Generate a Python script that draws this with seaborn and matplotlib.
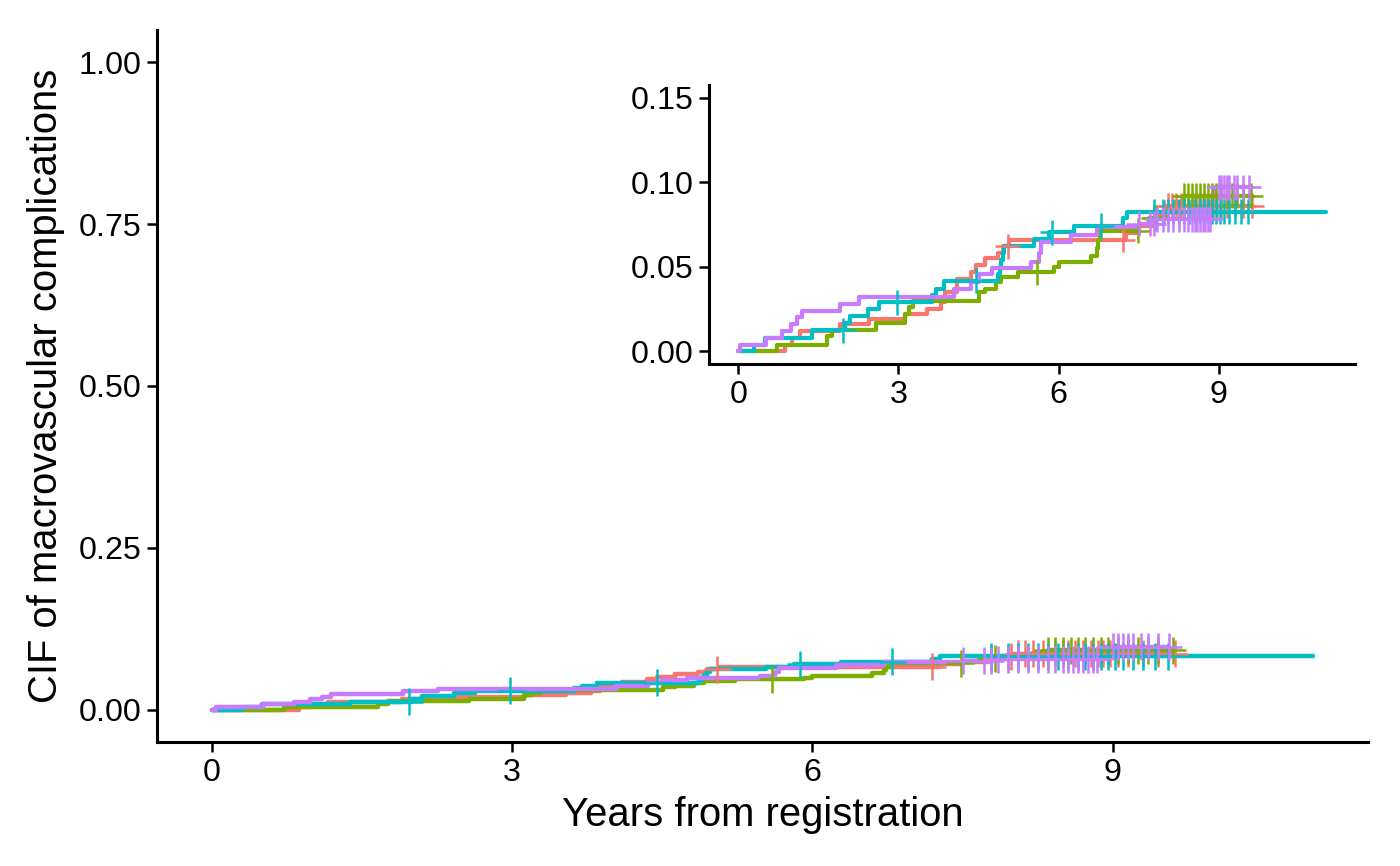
import numpy as np
import pandas as pd
import matplotlib
matplotlib.use("Agg")
import matplotlib.pyplot as plt
import seaborn as sns

# ---------------- data ----------------
groups = ["Group 1", "Group 2", "Group 3", "Group 4"]
colors = ["#F8766D", "#7CAE00", "#00BFC4", "#C77CFF"]

# event times (years) and CIF after each step
g1_time = [0, 0.87, 1.0, 1.16, 1.9, 2.45, 3.13, 3.54, 3.79, 3.88, 4.1, 4.35, 4.45,
           4.63, 4.86, 4.95, 5.07, 7.27, 7.5, 7.75, 7.9, 8.0]
g1_cif = [0, 0.004, 0.008, 0.012, 0.016, 0.019, 0.022, 0.025, 0.029, 0.035, 0.043, 0.047, 0.051,
          0.055, 0.058, 0.062, 0.066, 0.070, 0.074, 0.078, 0.082, 0.086]
g1_censor = [5.05, 7.2, 7.98, 8.05, 8.12, 8.2, 8.3, 8.42, 8.5, 8.55, 8.62, 8.7, 8.78,
             8.85, 8.9, 8.97, 9.05, 9.15, 9.3, 9.45, 9.62]

g2_time = [0, 0.72, 1.66, 1.76, 2.57, 3.12, 3.2, 3.28, 4.51, 4.63, 4.82, 4.92, 5.23,
           5.92, 6.0, 6.6, 6.72, 6.74, 6.77, 7.5, 7.7, 8.0, 8.2, 8.35]
g2_cif = [0, 0.004, 0.009, 0.0127, 0.0166, 0.022, 0.026, 0.030, 0.0348, 0.037, 0.0407, 0.0437, 0.0467,
          0.0496, 0.0526, 0.0565, 0.061, 0.066, 0.0714, 0.075, 0.079, 0.084, 0.088, 0.092]
g2_censor = [5.6, 7.48, 7.78, 7.82, 8.35, 8.42, 8.5, 8.58, 8.65, 8.72, 8.8, 8.88, 8.95,
             9.05, 9.15, 9.25, 9.35, 9.45, 9.6]

g3_time = [0, 0.3, 0.5, 1.38, 2.0, 2.1, 2.42, 2.63, 3.62, 3.7, 3.85, 4.87, 4.9, 4.92,
           4.95, 4.98, 5.54, 5.82, 6.29, 7.2, 7.28]
g3_cif = [0, 0.004, 0.008, 0.0125, 0.017, 0.021, 0.025, 0.029, 0.033, 0.037, 0.0417, 0.046, 0.050, 0.054,
          0.058, 0.0625, 0.0664, 0.0704, 0.0743, 0.0787, 0.0826]
g3_censor = [1.97, 2.98, 4.45, 5.88, 6.8, 7.78, 7.95, 8.05, 8.15, 8.25, 8.35, 8.45, 8.55,
             8.65, 8.72, 8.8, 8.88, 8.95, 9.02, 9.1, 9.2, 9.3, 9.42, 9.55]

g4_time = [0, 0.04, 0.51, 0.82, 0.98, 1.10, 1.19, 1.91, 2.26, 4.04, 4.36, 4.5, 4.75,
           5.48, 5.63, 5.67, 6.24, 6.72, 7.5, 7.81, 8.86, 8.88, 8.9, 8.92]
g4_cif = [0, 0.004, 0.008, 0.012, 0.016, 0.020, 0.024, 0.028, 0.032, 0.037, 0.041, 0.0457, 0.049,
          0.0526, 0.058, 0.0645, 0.069, 0.0733, 0.0755, 0.078, 0.083, 0.088, 0.093, 0.097]
g4_censor = [7.5, 7.71, 7.78, 7.85, 7.95, 8.05, 8.15, 8.25, 8.35, 8.42, 8.5, 8.55, 8.6,
             8.65, 8.7, 8.75, 8.8, 8.84, 9.0, 9.05, 9.1, 9.15, 9.2, 9.28, 9.35, 9.45, 9.56]

followup_end = [9.62, 9.6, 11.0, 9.56]

x_ticks = [0, 3, 6, 9]
main_y_ticks = [0.00, 0.25, 0.50, 0.75, 1.00]
inset_y_ticks = [0.00, 0.05, 0.10, 0.15]
x_label = "Years from registration"
y_label = "CIF of macrovascular complications"

# ---------------- build tables ----------------
times = [g1_time, g2_time, g3_time, g4_time]
cifs = [g1_cif, g2_cif, g3_cif, g4_cif]
censors = [g1_censor, g2_censor, g3_censor, g4_censor]

line_rows = []
cens_rows = []
for g, t, c, cs, end in zip(groups, times, cifs, censors, followup_end):
    t = np.asarray(t, float)
    c = np.asarray(c, float)
    for ti, ci in zip(t, c):
        line_rows.append((g, ti, ci))
    line_rows.append((g, end, c[-1]))
    for ct in cs:
        idx = np.searchsorted(t, ct, side="right") - 1
        cens_rows.append((g, ct, c[idx]))

lines = pd.DataFrame(line_rows, columns=["group", "time", "cif"])
cens = pd.DataFrame(cens_rows, columns=["group", "time", "cif"])
palette = dict(zip(groups, colors))

# ---------------- style ----------------
sns.set_theme(style="ticks")
plt.rcParams["font.family"] = ["Liberation Sans", "DejaVu Sans"]
plt.rcParams["axes.linewidth"] = 1.1
plt.rcParams["xtick.major.width"] = 0.9
plt.rcParams["ytick.major.width"] = 0.9
plt.rcParams["xtick.major.size"] = 3.6
plt.rcParams["ytick.major.size"] = 3.6
plt.rcParams["xtick.color"] = "black"
plt.rcParams["ytick.color"] = "black"
plt.rcParams["axes.edgecolor"] = "black"
plt.rcParams["axes.labelcolor"] = "black"
plt.rcParams["text.color"] = "black"

fig = plt.figure(figsize=(7, 4.33), dpi=200)
ax = fig.add_axes([0.1121, 0.1432, 0.977 - 0.1121, 0.9654 - 0.1432])
axin = fig.add_axes([0.5064, 0.5797, 0.4614, 0.3222])


def draw(a, ylim, yticks, lw, ms):
    sns.lineplot(data=lines, x="time", y="cif", hue="group", palette=palette,
                 hue_order=groups, estimator=None, drawstyle="steps-post",
                 linewidth=lw, legend=False, ax=a)
    sns.scatterplot(data=cens, x="time", y="cif", hue="group", palette=palette,
                    hue_order=groups, marker="+", s=ms, linewidth=0.9,
                    legend=False, ax=a, zorder=3)
    a.set_xlim(-0.55, 11.55)
    a.set_ylim(*ylim)
    a.set_xticks(x_ticks)
    a.set_xticklabels([str(v) for v in x_ticks])
    a.set_yticks(yticks)
    a.set_yticklabels([f"{v:.2f}" for v in yticks])
    a.tick_params(labelsize=11.6, pad=2, colors="black", labelcolor="black")
    for s in ["top", "right"]:
        a.spines[s].set_visible(False)
    a.set_facecolor("none")


draw(ax, (-0.05, 1.05), main_y_ticks, 1.6, 95)
ax.set_xlabel(x_label, fontsize=14.4, labelpad=3, color="black")
ax.set_ylabel(y_label, fontsize=14.4, labelpad=5, color="black")

draw(axin, (-0.0075, 0.1575), inset_y_ticks, 1.5, 80)
axin.set_xlabel("")
axin.set_ylabel("")

fig.savefig("out.png", dpi=200, facecolor="white")
